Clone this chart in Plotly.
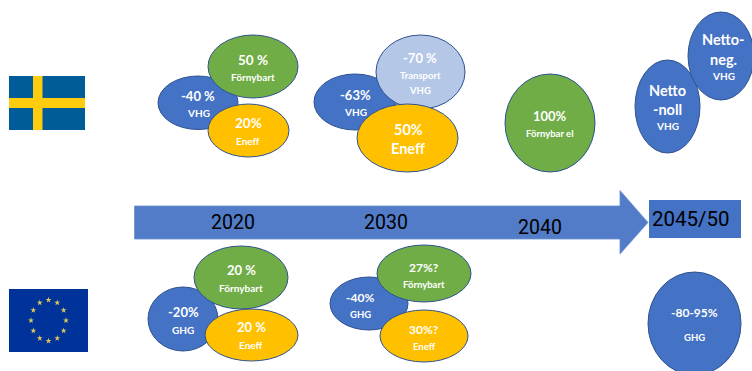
import math
import plotly.graph_objects as go

FONT = "Lato"
YEAR_FONT = "Roboto"
BLUE = "#4472C4"
GREEN = "#70AD47"
GOLD = "#FFC000"
PALE = "#B4C7E7"
EDGE = "#2F528F"

# Timeline milestones
years = ["2020", "2030", "2040", "2045/50"]

# Bubble captions: (main lines, small lines)
se_2020 = [(["-40 %"], ["VHG"]), (["50 %"], ["Förnybart"]), (["20%"], ["Eneff"])]
se_2030 = [(["-63%"], ["VHG"]), (["-70 %"], ["Transport", "VHG"]), (["50%", "Eneff"], [])]
se_2040 = [(["100%"], ["Förnybar el"])]
se_2045 = [(["Netto", "-noll"], ["VHG"]), (["Netto-", "neg."], ["VHG"])]
eu_2020 = [(["-20%"], ["GHG"]), (["20 %"], ["Förnybart"]), (["20 %"], ["Eneff"])]
eu_2030 = [(["-40%"], ["GHG"]), (["27%?"], ["Förnybart"]), (["30%?"], ["Eneff"])]
eu_2050 = [(["-80-95%"], ["GHG"])]

# Bubble layout in page pixels: x0, x1, y0, y1, fill
se_2020_geo = [(158, 238, 76, 129.5, BLUE), (208, 298, 35, 98, GREEN), (208, 289, 104, 157, GOLD)]
se_2030_geo = [(314, 396, 74, 130, BLUE), (376, 465, 35, 109, PALE), (357, 458, 104, 172, GOLD)]
se_2040_geo = [(505, 595, 74, 172, GREEN)]
se_2045_geo = [(635, 700, 60, 153, BLUE), (688, 754, 12, 100, BLUE)]
eu_2020_geo = [(148, 218, 287, 351, BLUE), (194, 288, 246, 309, GREEN), (205, 298, 309, 361, GOLD)]
eu_2030_geo = [(330, 408, 277, 330, BLUE), (377, 471, 245, 302, GREEN), (380, 468, 310, 362, GOLD)]
eu_2050_geo = [(648, 741, 272, 375, BLUE)]

# Centre of each caption line in page pixels: (x, [y of each line], main size, small size)
se_2020_pos = [(198, [96, 113], 13, 10), (253, [60, 77], 13.5, 10), (248, [123, 141], 13.5, 10)]
se_2030_pos = [(355, [95, 112], 13, 10), (420, [58, 75, 90], 13, 9.5), (408, [129, 148], 14.5, 14.5)]
se_2040_pos = [(550, [116, 133], 13, 9.5)]
se_2045_pos = [(667, [90, 109, 126], 14.5, 10), (723, [39, 59, 76], 14.5, 10)]
eu_2020_pos = [(183, [312, 330], 13, 10), (241, [270, 288], 13, 10), (251, [327, 345], 13, 10)]
eu_2030_pos = [(360, [297, 314], 12, 9.5), (424, [267, 284], 12, 9.5), (424, [329, 346], 12, 9.5)]
eu_2050_pos = [(694, [312, 337], 12, 9.5)]

year_pos = [(233, 222, 19.5), (386, 222, 19.5), (540, 227, 19.5), (691, 219, 20.5)]

groups = [
    (se_2020, se_2020_geo, se_2020_pos),
    (se_2030, se_2030_geo, se_2030_pos),
    (se_2040, se_2040_geo, se_2040_pos),
    (se_2045, se_2045_geo, se_2045_pos),
    (eu_2020, eu_2020_geo, eu_2020_pos),
    (eu_2030, eu_2030_geo, eu_2030_pos),
    (eu_2050, eu_2050_geo, eu_2050_pos),
]

shapes = []
annotations = []


def rect(x0, x1, y0, y1, fill, layer="above"):
    shapes.append(dict(type="rect", x0=x0, x1=x1, y0=y0, y1=y1,
                       fillcolor=fill, line=dict(width=0), layer=layer))


# Swedish flag
rect(9, 85, 76, 130, "#005B99")
rect(33, 42.5, 76, 130, "#FECC0F")
rect(9, 85, 98, 108, "#FECC0F")

# EU flag sits under the star trace
rect(9, 88, 289, 352, "#003399", layer="below")

# Timeline arrow and the closing box
shapes.append(dict(type="path",
                   path="M134.5,206 L620,206 L620,190.5 L648,222.5 L620,254 L620,239 L134.5,239 Z",
                   fillcolor="#527CC7", line=dict(color="#6A8FD0", width=0.8), layer="above"))
rect(649, 741, 200, 238, BLUE)

for captions, geometry, positions in groups:
    for (main, small), (x0, x1, y0, y1, fill), (cx, ys, main_size, small_size) in zip(captions, geometry, positions):
        shapes.append(dict(type="circle", x0=x0, x1=x1, y0=y0, y1=y1,
                           fillcolor=fill, line=dict(color=EDGE, width=1), layer="above"))
        lines = [(t, main_size) for t in main] + [(t, small_size) for t in small]
        for (text, size), y in zip(lines, ys):
            annotations.append(dict(x=cx, y=y, text=f"<b>{text}</b>", showarrow=False,
                                    xanchor="center", yanchor="middle",
                                    font=dict(family=FONT, size=size, color="white")))

for year, (x, y, size) in zip(years, year_pos):
    annotations.append(dict(x=x, y=y, text=year, showarrow=False,
                            xanchor="center", yanchor="middle",
                            font=dict(family=YEAR_FONT, size=size, color="black")))

# Ring of twelve stars on the EU flag
star_x = [48.5 + 17.5 * math.sin(math.radians(30 * i)) for i in range(12)]
star_y = [320.5 - 20.5 * math.cos(math.radians(30 * i)) for i in range(12)]

fig = go.Figure(go.Scatter(x=star_x, y=star_y, mode="markers", hoverinfo="skip",
                           marker=dict(symbol="star", size=4.5, color="#D8C95A", line=dict(width=0))))
fig.update_layout(
    width=752, height=371, margin=dict(l=0, r=0, t=0, b=0),
    paper_bgcolor="white", plot_bgcolor="white", showlegend=False,
    xaxis=dict(range=[0, 752], visible=False, fixedrange=True),
    yaxis=dict(range=[371, 0], visible=False, fixedrange=True),
    shapes=shapes, annotations=annotations,
)
fig.write_html("out.html", config=dict(displayModeBar=False))
